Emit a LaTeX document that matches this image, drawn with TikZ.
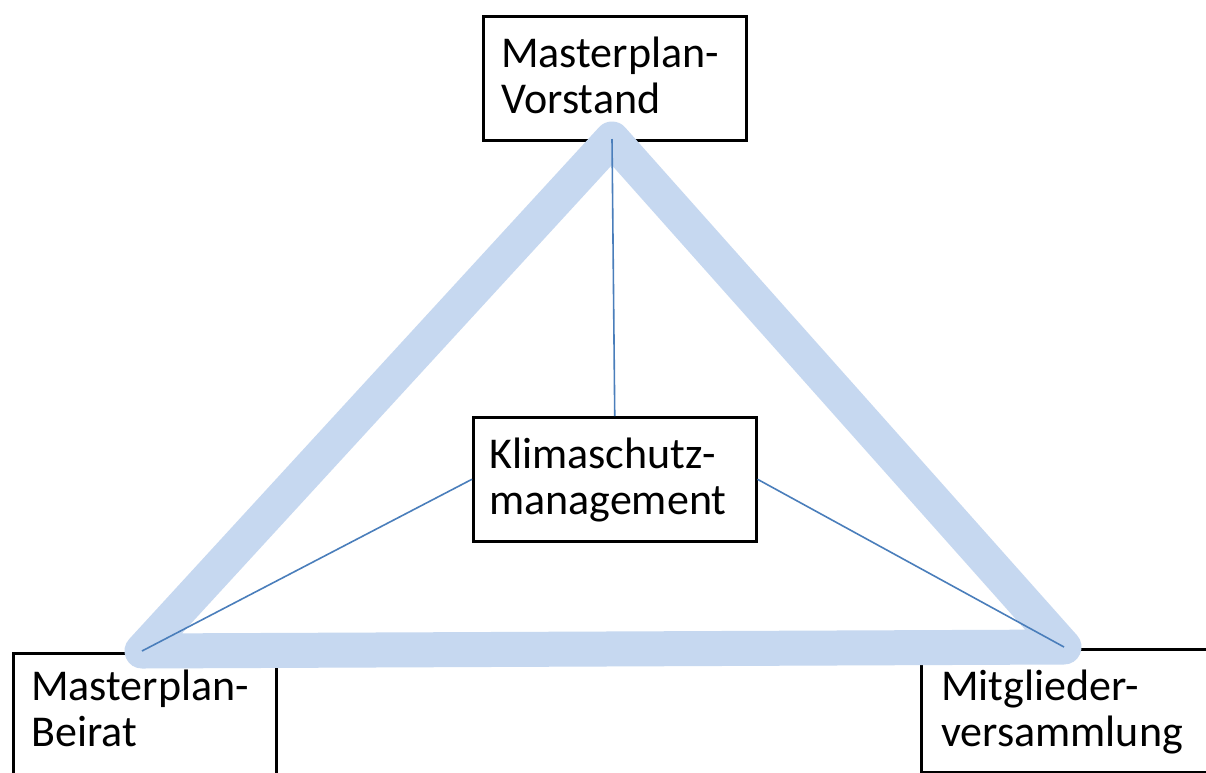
\documentclass[tikz,border=0pt]{standalone}
\usepackage{fontspec}
\setmainfont{Carlito}
\definecolor{bandblue}{RGB}{198,216,240}
\definecolor{linkblue}{RGB}{74,126,187}
\begin{document}
\begin{tikzpicture}[x=1pt,y=-1pt,
  box/.style={draw=black, line width=2.5pt, fill=white, anchor=north west,
    inner ysep=0pt, align=left, font=\fontsize{44}{46}\selectfont},
  band/.style={draw=bandblue, line width=35pt, line join=round, line cap=round},
  link/.style={draw=linkblue, line width=1.6pt}]
  \clip (0,0) rectangle (1206,772);
  \fill[white] (0,0) rectangle (1206,772);

  % corner boxes
  \node[box, inner xsep=18pt, text width=227pt, text height=51pt, text depth=73pt]
    (vorstand) at (482,15) {Masterplan-\\Vorstand};
  \node[box, inner xsep=18pt, text width=227pt, text height=47pt, text depth=77pt]
    (beirat) at (12,652) {Masterplan-\\Beirat};
  \node[box, inner xsep=20pt, text width=260pt, text height=51pt, text depth=72pt]
    (mitglieder) at (920,648) {Mitglieder-\\versammlung};

  % triangle corners
  \coordinate (ptop) at (612,139);
  \coordinate (pleft) at (142,651);
  \coordinate (pright) at (1064,647);

  % broad triangle
  \draw[band] (ptop) -- (pleft) -- (pright) -- cycle;

  % central box
  \node[box, inner xsep=16pt, text width=251pt, text height=51pt, text depth=73pt]
    (klima) at (472,416) {Klimaschutz-\\management};

  % thin links to the centre
  \draw[link] (ptop) -- (klima.north);
  \draw[link] (pleft) -- (klima.west);
  \draw[link] (pright) -- (klima.east);
\end{tikzpicture}
\end{document}
